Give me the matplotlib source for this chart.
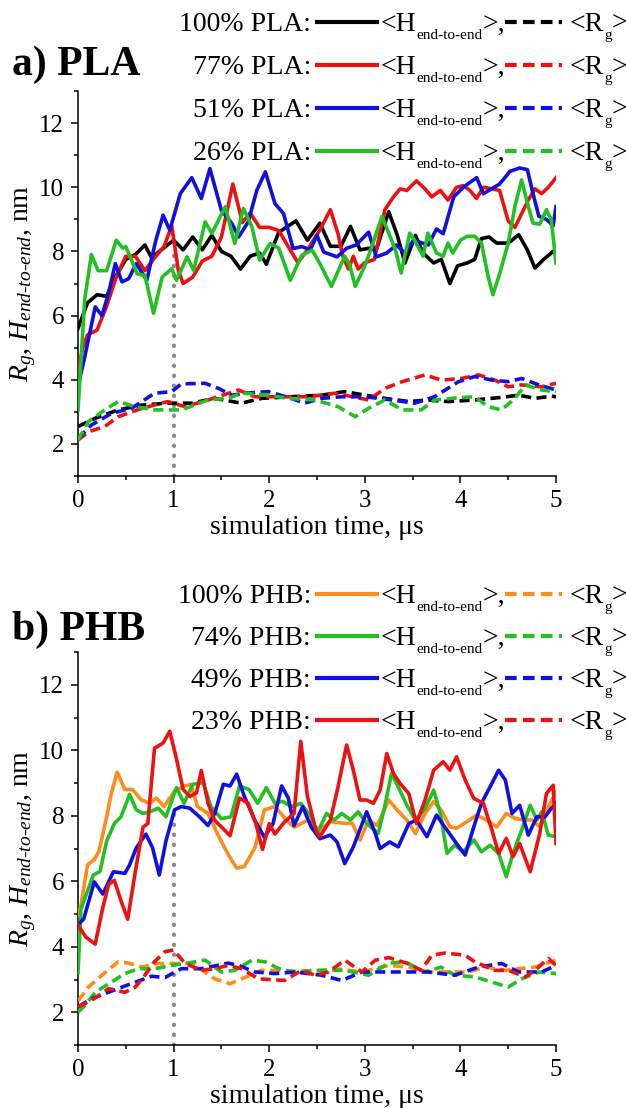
import matplotlib
matplotlib.use("Agg")
import matplotlib.pyplot as plt
from matplotlib.lines import Line2D
from matplotlib.ticker import MultipleLocator
from matplotlib.transforms import IdentityTransform

plt.rcParams['font.family'] = ['Liberation Serif', 'DejaVu Serif']
plt.rcParams['mathtext.fontset'] = 'custom'
plt.rcParams['mathtext.rm'] = 'Liberation Serif'
plt.rcParams['mathtext.it'] = 'Liberation Serif:italic'
plt.rcParams['mathtext.bf'] = 'Liberation Serif:bold'

# ---- panel a) PLA : end-to-end distance (solid) ----
t_h100a = [0, 0.1, 0.2, 0.3, 0.37, 0.5, 0.6, 0.7, 0.77, 0.85, 1.0, 1.1, 1.2, 1.3, 1.4, 1.5, 1.6, 1.7, 1.8, 1.9,
           1.97, 2.1, 2.28, 2.4, 2.53, 2.64, 2.75, 2.85, 2.95, 3.05, 3.12, 3.25, 3.34, 3.42, 3.53, 3.61, 3.72, 3.8,
           3.89, 3.97, 4.07, 4.15, 4.22, 4.3, 4.38, 4.5, 4.61, 4.7, 4.78, 4.87, 4.97, 5.0]
h100a = [5.6, 6.4, 6.65, 6.6, 7.1, 7.75, 7.9, 8.2, 7.8, 8.0, 8.35, 8.05, 8.45, 8.05, 8.5, 8.0, 7.85, 7.45, 7.85, 7.95,
         7.6, 8.6, 8.95, 8.35, 8.88, 8.16, 8.16, 8.78, 8.05, 8.1, 8.05, 9.24, 8.5, 7.64, 8.5, 7.95, 7.64, 7.75,
         7.0, 7.55, 7.64, 7.75, 8.4, 8.45, 8.26, 8.26, 8.52, 8.05, 7.48, 7.75, 8.0, 7.9]

t_h77a = [0, 0.05, 0.1, 0.2, 0.3, 0.4, 0.5, 0.6, 0.7, 0.8, 0.9, 0.98, 1.05, 1.1, 1.2, 1.3, 1.4, 1.5, 1.62, 1.72,
          1.8, 1.9, 2.0, 2.1, 2.2, 2.3, 2.4, 2.53, 2.64, 2.72, 2.77, 2.83, 2.88, 2.93, 3.0, 3.1, 3.21, 3.3, 3.37,
          3.44, 3.54, 3.63, 3.7, 3.79, 3.87, 3.96, 4.03, 4.1, 4.17, 4.24, 4.33, 4.41, 4.5, 4.57, 4.62, 4.71, 4.78,
          4.85, 4.92, 5.0]
h77a = [4.3, 5.0, 5.4, 5.55, 6.3, 7.2, 7.85, 7.85, 7.4, 7.8, 8.15, 8.8, 7.4, 7.0, 7.2, 7.7, 7.85, 8.45, 10.1, 8.9,
        9.2, 8.75, 8.75, 8.65, 8.15, 7.65, 8.05, 8.67, 9.3, 8.55, 7.85, 7.45, 7.85, 7.45, 7.65, 7.75, 9.3, 9.7, 9.95,
        9.9, 10.2, 9.95, 9.7, 9.9, 9.6, 10.0, 10.05, 9.9, 9.65, 10.0, 9.95, 9.9, 8.95, 8.75, 9.05, 9.6, 9.95,
        9.8, 10.0, 10.3]

t_h51a = [0, 0.07, 0.18, 0.25, 0.32, 0.39, 0.46, 0.53, 0.61, 0.72, 0.81, 0.89, 0.96, 1.07, 1.19, 1.29, 1.38, 1.5,
          1.61, 1.68, 1.78, 1.87, 1.96, 2.06, 2.15, 2.25, 2.34, 2.43, 2.5, 2.57, 2.71, 2.81, 2.91, 3.04, 3.12, 3.23,
          3.33, 3.42, 3.51, 3.665, 3.75, 3.82, 3.93, 4.03, 4.17, 4.24, 4.41, 4.52, 4.62, 4.7, 4.76, 4.82, 4.9, 4.97,
          5.0]
h51a = [3.8, 4.7, 6.27, 6.0, 6.7, 7.62, 7.05, 7.15, 7.62, 7.1, 8.3, 9.13, 8.66, 9.8, 10.3, 9.65, 10.58, 9.28,
        8.87, 8.45, 8.92, 9.9, 10.48, 9.49, 9.18, 8.09, 8.15, 8.05, 8.5, 7.98, 7.83, 8.1, 8.2, 8.6, 7.83, 7.95,
        8.2, 7.95, 8.35, 8.2, 8.7, 8.55, 9.7, 10.0, 10.3, 9.8, 10.1, 10.5, 10.6, 10.55, 9.8, 9.1, 9.0, 8.8,
        9.4]

t_h26a = [0, 0.07, 0.14, 0.21, 0.3, 0.4, 0.47, 0.5, 0.62, 0.7, 0.79, 0.88, 0.98, 1.03, 1.14, 1.21, 1.33, 1.4, 1.54,
          1.64, 1.73, 1.82, 1.9, 2.01, 2.1, 2.22, 2.34, 2.45, 2.53, 2.65, 2.79, 2.84, 2.9, 3.0, 3.05, 3.18, 3.25,
          3.32, 3.38, 3.47, 3.52, 3.61, 3.66, 3.75, 3.82, 3.87, 3.92, 4.0, 4.07, 4.15, 4.22, 4.29, 4.34, 4.41, 4.5,
          4.57, 4.64, 4.71, 4.76, 4.83, 4.9, 4.95, 5.0]
h26a = [3.05, 6.5, 7.9, 7.4, 7.4, 8.35, 8.1, 8.15, 7.3, 7.25, 6.07, 7.2, 7.46, 7.1, 7.83, 7.41, 8.92, 8.56, 9.39,
        8.25, 9.34, 8.76, 7.73, 8.25, 8.1, 7.1, 7.88, 8.04, 7.62, 6.91, 7.85, 7.6, 6.91, 7.55, 7.95, 9.09, 8.57,
        8.05, 7.33, 8.57, 8.35, 7.85, 8.57, 7.95, 7.85, 8.26, 7.95, 8.35, 8.47, 8.47, 8.26, 7.22, 6.65, 7.3, 8.26,
        9.4, 10.23, 9.4, 8.88, 8.85, 9.3, 9.0, 7.64]

# ---- panel a) PLA : radius of gyration (dashed) ----
t_r100a = [0, 0.18, 0.42, 0.67, 0.94, 1.19, 1.43, 1.71, 1.92, 2.23, 2.55, 2.79, 3.0, 3.21, 3.46, 3.66, 3.87, 4.15,
           4.43, 4.61, 4.78, 4.95, 5.0]
r100a = [2.54, 2.8, 3.06, 3.21, 3.27, 3.27, 3.42, 3.27, 3.42, 3.47, 3.52, 3.63, 3.52, 3.42, 3.32, 3.37, 3.32, 3.37,
         3.45, 3.52, 3.42, 3.49, 3.47]
t_r77a = [0, 0.11, 0.28, 0.42, 0.67, 0.94, 1.12, 1.36, 1.68, 1.85, 2.13, 2.41, 2.69, 3.04, 3.21, 3.39, 3.63, 3.8,
          4.01, 4.19, 4.36, 4.5, 4.64, 4.85, 5.0]
r77a = [2.12, 2.38, 2.54, 2.85, 3.11, 3.32, 3.16, 3.37, 3.68, 3.47, 3.47, 3.47, 3.58, 3.37, 3.73, 3.94, 4.15, 3.99,
        4.04, 4.15, 3.99, 3.78, 3.84, 3.78, 3.89]
t_r51a = [0, 0.14, 0.35, 0.56, 0.8, 0.98, 1.08, 1.33, 1.47, 1.61, 1.75, 1.99, 2.23, 2.37, 2.55, 2.76, 3.0, 3.28,
          3.52, 3.73, 3.98, 4.15, 4.33, 4.5, 4.64, 4.82, 5.0]
r51a = [2.17, 2.59, 2.95, 3.11, 3.58, 3.63, 3.87, 3.89, 3.73, 3.52, 3.58, 3.63, 3.42, 3.27, 3.42, 3.47, 3.47, 3.37,
        3.27, 3.47, 3.94, 4.1, 3.99, 3.94, 4.04, 3.84, 3.68]
t_r26a = [0, 0.11, 0.28, 0.42, 0.6, 0.8, 1.08, 1.36, 1.57, 1.71, 1.96, 2.2, 2.48, 2.72, 2.9, 3.04, 3.21, 3.39, 3.59,
          3.73, 3.91, 4.15, 4.29, 4.43, 4.57, 4.68, 4.85, 5.0]
r26a = [2.12, 2.7, 3.06, 3.32, 3.16, 3.06, 3.06, 3.37, 3.42, 3.58, 3.53, 3.42, 3.37, 3.16, 2.85, 3.11, 3.37, 3.06,
        3.06, 3.37, 3.42, 3.47, 3.16, 3.06, 3.42, 3.84, 3.68, 3.63]

# ---- panel b) PHB : end-to-end distance (solid) ----
t_h100b = [0, 0.03, 0.1, 0.17, 0.22, 0.3, 0.35, 0.41, 0.49, 0.57, 0.66, 0.75, 0.82, 0.9, 1.01, 1.11, 1.18, 1.25,
           1.36, 1.46, 1.57, 1.66, 1.74, 1.85, 1.95, 2.06, 2.2, 2.26, 2.4, 2.53, 2.64, 2.78, 2.87, 2.95, 3.04, 3.13,
           3.25, 3.34, 3.44, 3.53, 3.63, 3.72, 3.8, 3.89, 3.96, 4.07, 4.17, 4.27, 4.38, 4.48, 4.57, 4.66, 4.75,
           4.83, 4.94, 5.0]
h100b = [4.95, 5.25, 6.5, 6.66, 6.92, 7.97, 8.7, 9.33, 8.8, 8.8, 8.49, 8.38, 8.54, 8.28, 8.75, 8.9, 8.96, 8.28,
         8.07, 7.44, 6.82, 6.4, 6.45, 7.02, 8.18, 8.28, 7.81, 7.65, 7.86, 7.56, 7.82, 7.77, 7.77, 7.26, 7.87, 7.7,
         8.48, 8.17, 7.87, 7.46, 8.07, 8.43, 8.17, 7.66, 7.62, 7.82, 8.02, 7.87, 7.66, 8.07, 7.92, 7.87, 7.87,
         7.66, 8.38, 8.73]

t_h74b = [0, 0.03, 0.16, 0.23, 0.3, 0.38, 0.45, 0.54, 0.61, 0.68, 0.75, 0.84, 0.92, 1.03, 1.11, 1.2, 1.31, 1.39,
          1.5, 1.6, 1.69, 1.79, 1.88, 1.97, 2.06, 2.14, 2.23, 2.33, 2.44, 2.5, 2.6, 2.68, 2.76, 2.85, 2.93, 3.02,
          3.14, 3.2, 3.28, 3.35, 3.44, 3.53, 3.63, 3.72, 3.79, 3.86, 3.94, 4.03, 4.14, 4.22, 4.31, 4.4, 4.48, 4.55,
          4.64, 4.73, 4.8, 4.85, 4.92, 5.0]
h74b = [3.2, 5.14, 6.19, 6.3, 7.23, 7.76, 7.97, 8.65, 8.18, 8.07, 8.12, 8.23, 7.97, 8.86, 8.38, 8.96, 9.01, 8.28,
        7.91, 7.97, 8.91, 8.8, 8.38, 8.86, 8.38, 8.44, 8.28, 8.38, 7.97, 7.46, 8.07, 7.87, 8.07, 7.87, 8.12, 7.77,
        7.46, 8.17, 9.29, 8.88, 8.32, 7.87, 8.22, 8.78, 8.07, 6.85, 7.1, 6.9, 7.26, 6.9, 7.1, 6.85, 6.14, 6.85,
        7.56, 8.32, 7.87, 8.12, 7.41, 7.36]

t_h49b = [0, 0.06, 0.17, 0.26, 0.37, 0.49, 0.54, 0.61, 0.71, 0.78, 0.85, 0.92, 1.01, 1.08, 1.17, 1.27, 1.36, 1.43,
          1.52, 1.59, 1.66, 1.74, 1.85, 1.95, 2.04, 2.13, 2.2, 2.26, 2.35, 2.44, 2.53, 2.64, 2.71, 2.79, 2.88, 3.02,
          3.11, 3.16, 3.26, 3.35, 3.46, 3.54, 3.65, 3.75, 3.86, 3.96, 4.05, 4.14, 4.22, 4.31, 4.4, 4.47, 4.54, 4.62,
          4.71, 4.8, 4.88, 4.95, 5.0]
h49b = [4.67, 4.85, 5.98, 5.61, 6.29, 6.24, 6.5, 7.02, 7.44, 7.02, 6.19, 7.23, 8.18, 8.28, 8.23, 7.97, 7.7, 8.07,
        8.96, 8.91, 9.27, 8.59, 7.86, 7.34, 7.76, 8.91, 8.54, 7.7, 8.28, 7.65, 7.3, 7.41, 7.2, 6.54, 7.05, 8.12,
        7.46, 7.0, 7.2, 7.05, 7.76, 7.87, 7.36, 8.02, 7.56, 7.15, 6.8, 7.66, 8.38, 8.88, 9.39, 9.09, 8.07, 8.32,
        7.41, 7.97, 7.95, 8.22, 8.38]

t_h23b = [0, 0.08, 0.18, 0.26, 0.32, 0.38, 0.45, 0.52, 0.6, 0.68, 0.73, 0.8, 0.89, 0.96, 1.03, 1.1, 1.17, 1.24,
          1.29, 1.36, 1.43, 1.52, 1.59, 1.64, 1.69, 1.78, 1.86, 1.93, 2.0, 2.06, 2.16, 2.26, 2.33, 2.4, 2.49, 2.53,
          2.64, 2.72, 2.81, 2.88, 2.95, 3.02, 3.09, 3.16, 3.23, 3.3, 3.37, 3.46, 3.54, 3.63, 3.72, 3.82, 3.89, 3.96,
          4.05, 4.14, 4.24, 4.33, 4.4, 4.48, 4.55, 4.62, 4.73, 4.83, 4.9, 4.97, 5.0]
h23b = [4.67, 4.3, 4.08, 5.2, 5.9, 6.03, 5.4, 4.84, 6.3, 7.65, 7.76, 10.06, 10.22, 10.58, 9.74, 8.8, 8.59, 8.7,
        9.38, 8.38, 7.86, 7.6, 7.39, 7.97, 8.54, 8.38, 7.76, 6.97, 7.76, 7.44, 7.81, 8.07, 10.27, 8.59, 7.55, 7.36,
        7.87, 8.88, 10.16, 9.39, 8.48, 8.48, 8.38, 8.78, 9.9, 9.29, 8.98, 8.68, 7.76, 8.48, 9.39, 9.65, 9.39, 9.8,
        9.09, 8.53, 8.38, 7.56, 6.85, 7.31, 6.75, 7.15, 6.29, 7.46, 8.68, 8.93, 7.15]

# ---- panel b) PHB : radius of gyration (dashed) ----
t_r100b = [0, 0.11, 0.25, 0.42, 0.53, 0.67, 0.84, 1.0, 1.19, 1.43, 1.59, 1.71, 1.92, 2.13, 2.41, 2.69, 2.97, 3.25,
           3.46, 3.66, 3.87, 4.08, 4.26, 4.47, 4.61, 4.78, 5.0]
r100b = [2.35, 2.77, 3.13, 3.54, 3.5, 3.38, 3.49, 3.49, 3.49, 3.02, 2.87, 3.02, 3.28, 3.28, 3.23, 3.33, 3.23, 3.43,
         3.38, 3.23, 3.23, 3.23, 3.38, 3.28, 3.33, 3.38, 3.59]
t_r74b = [0, 0.07, 0.18, 0.35, 0.49, 0.63, 0.8, 0.98, 1.12, 1.33, 1.5, 1.64, 1.82, 1.96, 2.1, 2.24, 2.48, 2.65, 2.79,
          3.04, 3.25, 3.42, 3.63, 3.8, 3.94, 4.15, 4.33, 4.5, 4.64, 4.82, 5.0]
r74b = [2.0, 2.2, 2.61, 2.92, 3.18, 3.33, 3.33, 3.43, 3.49, 3.59, 3.23, 3.28, 3.59, 3.54, 3.33, 3.23, 3.28, 3.28,
        3.28, 3.13, 3.5, 3.54, 3.23, 3.38, 3.13, 3.08, 2.92, 2.77, 3.02, 3.23, 3.18]
t_r49b = [0, 0.14, 0.39, 0.6, 0.77, 0.91, 1.08, 1.29, 1.57, 1.68, 1.85, 2.06, 2.27, 2.55, 2.76, 2.97, 3.18, 3.46,
          3.66, 3.94, 4.19, 4.43, 4.61, 4.85, 5.0]
r49b = [2.17, 2.41, 2.69, 2.92, 3.1, 3.06, 3.33, 3.33, 3.5, 3.43, 3.23, 3.18, 3.23, 3.13, 2.97, 3.23, 3.23, 3.23,
        3.23, 3.13, 3.38, 3.49, 3.23, 3.23, 3.43]
t_r23b = [0, 0.14, 0.32, 0.49, 0.6, 0.7, 0.8, 0.91, 1.0, 1.12, 1.29, 1.43, 1.57, 1.71, 1.89, 2.16, 2.34, 2.48, 2.62,
          2.79, 2.97, 3.11, 3.25, 3.46, 3.59, 3.7, 3.84, 4.05, 4.15, 4.36, 4.5, 4.68, 4.78, 4.92, 5.0]
r23b = [2.17, 2.36, 2.72, 2.61, 2.77, 3.13, 3.54, 3.85, 3.9, 3.49, 3.28, 3.33, 3.43, 3.33, 3.02, 2.97, 3.28, 3.13,
        3.23, 3.59, 3.23, 3.59, 3.67, 3.48, 3.28, 3.74, 3.81, 3.74, 3.54, 3.28, 3.28, 3.08, 3.28, 3.64, 3.43]

labels_a = ['100% PLA:', '77% PLA:', '51% PLA:', '26% PLA:']
labels_b = ['100% PHB:', '74% PHB:', '49% PHB:', '23% PHB:']
colors_a = ['#000000', '#ee1111', '#1010e0', '#22c022']
colors_b = ['#ff8c1a', '#22c022', '#1010e0', '#ee1111']

W, H = 626, 1108
LW = 2.6
DASH = (0, (2.8, 1.5))
FS_LEG = 20
FS_SUB = 11
FS_TICK = 18
FS_LAB = 20
PX = IdentityTransform()


def style_axes(ax):
    ax.set_xlim(0, 5)
    ax.set_ylim(1, 13)
    ax.spines['top'].set_visible(False)
    ax.spines['right'].set_visible(False)
    for s in ('left', 'bottom'):
        ax.spines[s].set_linewidth(1.1)
    ax.xaxis.set_major_locator(MultipleLocator(1))
    ax.xaxis.set_minor_locator(MultipleLocator(0.5))
    ax.yaxis.set_major_locator(MultipleLocator(2))
    ax.yaxis.set_minor_locator(MultipleLocator(1))
    ax.yaxis.set_major_formatter(plt.FuncFormatter(lambda v, p: '%d' % v if v >= 2 else ''))
    ax.tick_params(which='major', direction='out', length=5, width=1.1, labelsize=FS_TICK, pad=5)
    ax.tick_params(which='minor', direction='out', length=3, width=1.1)
    ax.set_xlabel('simulation time, \u03bcs', fontsize=FS_LAB, labelpad=2)
    ax.set_ylabel(r'$R_g$, $H_{end\text{-}to\text{-}end}$, nm', fontsize=FS_LAB, labelpad=1)
    ax.plot([1, 1], [1, 8.1], color='#8a8a8a', lw=3, linestyle=(0, (0.1, 2.3)),
            dash_capstyle='round', zorder=1)


def chain(fig, renderer, x, yb, parts):
    # parts: (text, fontsize, drop in px below the baseline)
    for s, fs, dy in parts:
        t = fig.text(x, yb - dy, s, fontsize=fs, ha='left', va='baseline', transform=PX)
        x = t.get_window_extent(renderer).x1
    return x


def legend_rows(fig, labels, colors, rows):
    renderer = fig.canvas.get_renderer()
    for lab, c, y in zip(labels, colors, rows):
        yf = 1 - y / H
        yb = H - (y + 9)
        fig.text(311, yb, lab, ha='right', va='baseline', fontsize=FS_LEG, transform=PX)
        fig.add_artist(Line2D([317 / W, 377 / W], [yf, yf], color=c, lw=LW + 0.4))
        chain(fig, renderer, 381, yb, [('<H', FS_LEG, 0), ('end-to-end', FS_SUB, 8), ('>,', FS_LEG, 0)])
        fig.add_artist(Line2D([505 / W, 562 / W], [yf, yf], color=c, lw=LW + 0.4, linestyle=DASH))
        chain(fig, renderer, 570, yb, [('<R', FS_LEG, 0), ('g', FS_SUB, 8), ('>', FS_LEG, 0)])


fig = plt.figure(figsize=(W / 100, H / 100), dpi=100)

ax_a = fig.add_axes([78 / W, (H - 476) / H, 478 / W, 385 / H])
style_axes(ax_a)
for tt, yy, c in zip([t_h100a, t_h77a, t_h51a, t_h26a], [h100a, h77a, h51a, h26a], colors_a):
    ax_a.plot(tt, yy, color=c, lw=LW, zorder=3)
for tt, yy, c in zip([t_r100a, t_r77a, t_r51a, t_r26a], [r100a, r77a, r51a, r26a], colors_a):
    ax_a.plot(tt, yy, color=c, lw=LW, linestyle=DASH, zorder=3)

ax_b = fig.add_axes([78 / W, (H - 1045) / H, 478 / W, 393 / H])
style_axes(ax_b)
for tt, yy, c in zip([t_h100b, t_h74b, t_h49b, t_h23b], [h100b, h74b, h49b, h23b], colors_b):
    ax_b.plot(tt, yy, color=c, lw=LW, zorder=3)
for tt, yy, c in zip([t_r100b, t_r74b, t_r49b, t_r23b], [r100b, r74b, r49b, r23b], colors_b):
    ax_b.plot(tt, yy, color=c, lw=LW, linestyle=DASH, zorder=3)

fig.text(12 / W, 1 - 75 / H, 'a) PLA', fontsize=30, fontweight='bold', va='baseline')
fig.text(12 / W, 1 - 640 / H, 'b) PHB', fontsize=30, fontweight='bold', va='baseline')
legend_rows(fig, labels_a, colors_a, [22, 65, 108, 151])
legend_rows(fig, labels_b, colors_b, [594, 636, 678, 720])

fig.savefig('out.png', dpi=100)
